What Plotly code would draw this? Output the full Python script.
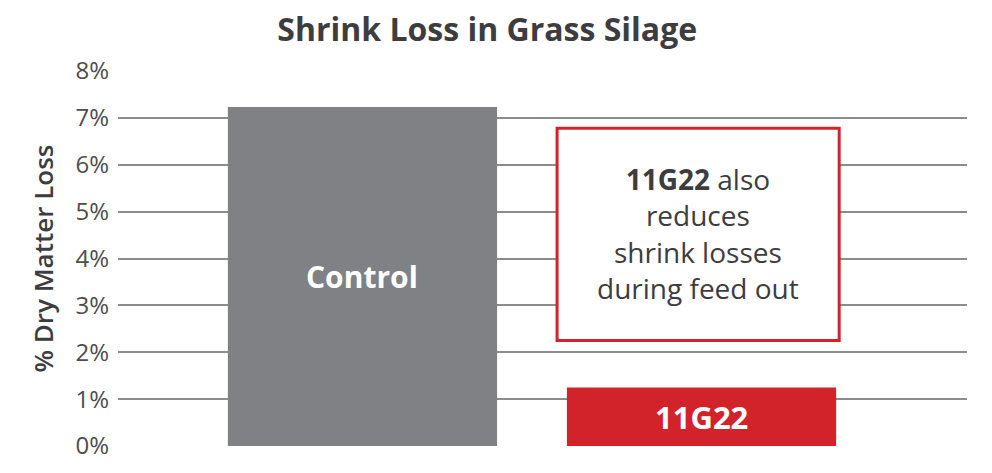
import plotly.graph_objects as go

# values
categories = ["Control", "11G22"]
dm_loss = [7.23, 1.25]
bar_colors = ["#808184", "#d2232a"]
y_ticks = [0, 1, 2, 3, 4, 5, 6, 7, 8]
y_tick_labels = [f"{t}%" for t in y_ticks]
callout_lines = ["<b>11G22</b> also", "reduces", "shrink losses", "during feed out"]
callout_top = 6.78
callout_bottom = 2.25

FONT = "Open Sans"
DARK = "#3d3d3f"

fig = go.Figure()
fig.add_trace(go.Bar(
    x=[0, 1],
    y=dm_loss,
    marker=dict(color=bar_colors, line=dict(width=0)),
    width=0.794,
    hoverinfo="skip",
))

# bar labels, white bold inside the bars
fig.add_annotation(x=0, y=dm_loss[0] / 2, text="<b>" + categories[0] + "</b>",
                   showarrow=False, font=dict(family=FONT, size=30, color="white"))
fig.add_annotation(x=1, y=dm_loss[1] / 2, text="<b>" + categories[1] + "</b>",
                   showarrow=False, font=dict(family=FONT, size=31, color="white"))

# callout box with red border
box_x0, box_x1 = 0.574, 1.406
fig.add_shape(type="rect", xref="x", yref="y",
              x0=box_x0, x1=box_x1, y0=callout_bottom, y1=callout_top,
              fillcolor="white", line=dict(color="#d2232a", width=3), layer="above")
fig.add_annotation(x=(box_x0 + box_x1) / 2, y=4.53,
                   text="<br>".join(callout_lines), showarrow=False,
                   font=dict(family=FONT, size=28, color=DARK, weight=500))

# page body has an 8px margin, so the figure is 8px smaller than the window
fig.update_layout(
    width=984, height=465,
    margin=dict(l=110, r=25, t=63, b=21),
    paper_bgcolor="white", plot_bgcolor="white",
    showlegend=False,
    title=dict(text="<b>Shrink Loss in Grass Silage</b>", x=0.487, xanchor="center",
               yref="container", y=1 - 22 / 465, yanchor="middle",
               font=dict(family=FONT, size=32, color=DARK)),
    font=dict(family=FONT),
)
fig.update_xaxes(range=[-0.721, 1.783], showticklabels=False, showgrid=False,
                 zeroline=False, showline=False)
fig.update_yaxes(range=[0, 8], tickvals=y_ticks, ticktext=y_tick_labels,
                 showgrid=True, gridcolor="#8c8c8c", gridwidth=2,
                 zeroline=False, showline=False, ticks="", ticklabelstandoff=8,
                 tickfont=dict(family=FONT, size=24, color="#4d4d4f"),
                 title=dict(text="% Dry Matter Loss", standoff=14,
                            font=dict(family=FONT, size=26, color=DARK, weight=600)))

fig.write_html("out.html")
